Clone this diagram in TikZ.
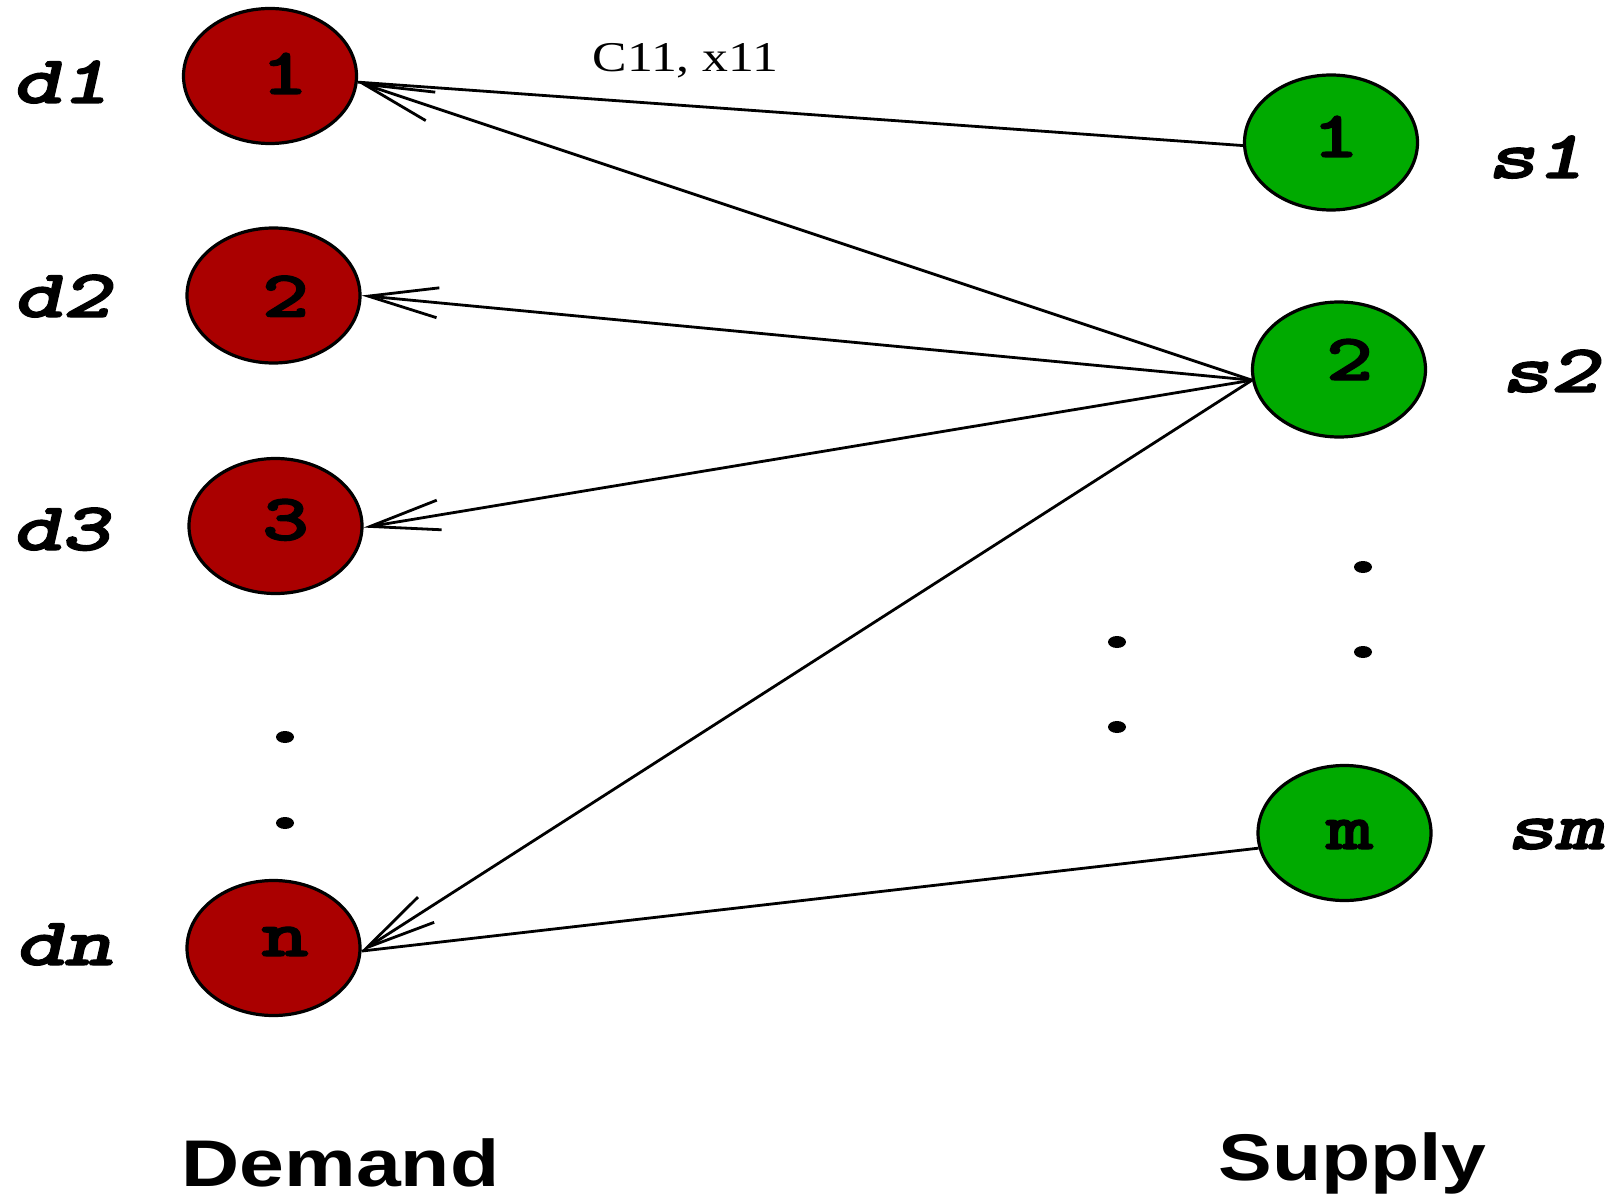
\documentclass[tikz,border=0pt]{standalone}
\usepackage{fontspec}
\setmainfont{Liberation Serif}
\newfontfamily\sansfnt{Liberation Sans}
\newfontfamily\monofnt{lmmonolt10-bold.otf}[ItalicFont=lmmonolt10-boldoblique.otf, FakeBold=1.8]
\usetikzlibrary{shapes.geometric,arrows.meta}
\definecolor{demred}{RGB}{170,0,0}
\definecolor{supgreen}{RGB}{0,170,0}
\newcommand\widetxt[1]{\scalebox{1.22}[1]{#1}}
\newcommand\widemono[1]{\scalebox{1.36}[1]{#1}}
\tikzset{
  oval/.style={ellipse, draw=black, line width=1.6pt, minimum width=86.5pt, minimum height=67.5pt, inner sep=0pt},
  demnode/.style={oval, fill=demred},
  supnode/.style={oval, fill=supgreen},
  numtxt/.style={anchor=base, inner sep=0pt, font=\monofnt\fontsize{33}{33}\selectfont},
  sidelabel/.style={anchor=base, inner sep=0pt, font=\monofnt\itshape\fontsize{34}{34}\selectfont},
  titletxt/.style={anchor=base, inner sep=0pt, font=\sansfnt\bfseries\fontsize{33}{33}\selectfont},
  costtxt/.style={anchor=base, inner sep=0pt, font=\fontsize{21.2}{21.2}\selectfont},
  edge/.style={line width=1.4pt},
  flow/.style={edge, -{Straight Barb[length=35pt,width=15pt]}},
  dotmark/.style={fill=black, x radius=4.5pt, y radius=3pt}
}
\begin{document}
\begin{tikzpicture}[x=0.5pt, y=-0.5pt]
\useasboundingbox (0,0) rectangle (1611,1198);
% demand nodes
\node[demnode] (d1) at (270,76) {};
\node[demnode] (d2) at (273.5,295.5) {};
\node[demnode] (d3) at (275.5,526) {};
\node[demnode] (dn) at (273.5,948) {};
% supply nodes
\node[supnode] (s1) at (1331,142.5) {};
\node[supnode] (s2) at (1339,369.5) {};
\node[supnode] (sm) at (1344.5,833) {};
% numbers
\node[numtxt] (d1t) at (284.5,94) {\widemono{1}};
\node[numtxt] (d2t) at (285.5,316.7) {\widemono{2}};
\node[numtxt] (d3t) at (285.5,540) {\widemono{3}};
\node[numtxt] (dnt) at (285,956) {\widemono{n}};
\node[numtxt] (s1t) at (1335.5,157) {\widemono{1}};
\node[numtxt] (s2t) at (1349.5,380) {\widemono{2}};
\node[numtxt] (smt) at (1349.5,849) {\widemono{m}};
% side labels
\node[sidelabel] (ld1) at (61,103) {\widemono{d1}};
\node[sidelabel] (ld2) at (62,317) {\widemono{d2}};
\node[sidelabel] (ld3) at (61,550) {\widemono{d3}};
\node[sidelabel] (ldn) at (64,965) {\widemono{dn}};
\node[sidelabel] (ls1) at (1536,178) {\widemono{s1}};
\node[sidelabel] (ls2) at (1550,392) {\widemono{s2}};
\node[sidelabel] (lsm) at (1555,849) {\widemono{sm}};
% titles
\node[titletxt] (demand) at (340.5,1186) {\widetxt{Demand}};
\node[titletxt] (supply) at (1352.5,1180) {\widetxt{Supply}};
\node[costtxt] (cost) at (685.5,72) {\widetxt{C11, x11}};
% edges
\coordinate (c2) at (s2.187);
\draw[edge] (s1.182) -- (d1.-4);
\draw[flow] (c2) -- (d1.-4);
\draw[flow] (c2) -- (d2.east);
\draw[flow] (c2) -- (d3.-1);
\draw[flow] (c2) -- (dn.-2);
\draw[edge] (sm.190) -- (dn.-2);
% ellipsis dots
\fill[dotmark] (285,737) ellipse [];
\fill[dotmark] (285,823) ellipse [];
\fill[dotmark] (1117,642) ellipse [];
\fill[dotmark] (1117,727) ellipse [];
\fill[dotmark] (1363,567) ellipse [];
\fill[dotmark] (1363,652) ellipse [];
\end{tikzpicture}
\end{document}
